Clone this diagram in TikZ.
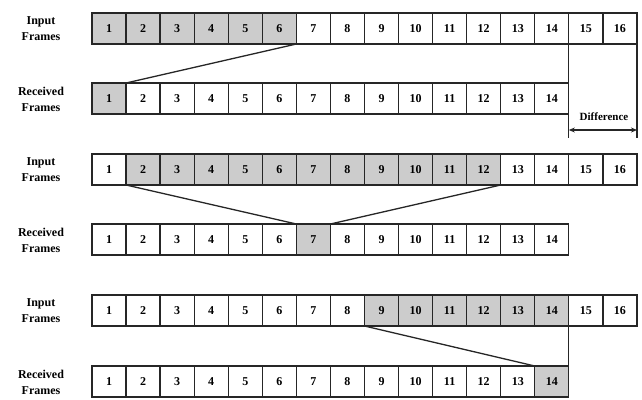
\documentclass[tikz,border=0pt]{standalone}
\usepackage{fontspec}
\setmainfont{Liberation Serif}
\usetikzlibrary{arrows.meta}
\begin{document}
\begin{tikzpicture}[x=1pt,y=-1pt,
  cell/.style={draw=black!85, line width=1.3pt, minimum width=34.06pt, minimum height=31pt,
    inner sep=0pt, outer sep=0pt, anchor=north west, font=\fontsize{12}{12}\selectfont\bfseries},
  lbl/.style={align=center, font=\fontsize{12}{16}\selectfont\bfseries},
  conn/.style={draw=black!85, line width=1.3pt},
  dimarrow/.style={conn, {Stealth[length=6pt,width=5pt]}-{Stealth[length=6pt,width=5pt]}}]
\useasboundingbox (0,0) rectangle (642,399);
\foreach \r/\top/\n/\a/\b in {1/13/16/1/6, 2/83/14/1/1, 3/154/16/2/12, 4/224/14/7/7, 5/295/16/9/14, 6/366/14/14/14}{
  \foreach \i in {1,...,\n}{
    \def\fillc{white}
    \ifnum\i<\a\relax\else\ifnum\i>\b\relax\else\def\fillc{black!20}\fi\fi
    \node[cell, fill=\fillc] (r\r-\i) at ({92+(\i-1)*34.06}, \top) {\i};
  }
}
\node[lbl] (L1) at (41, 28.5) {Input\\Frames};
\node[lbl] (L2) at (41, 99) {Received\\Frames};
\node[lbl] (L3) at (41, 170) {Input\\Frames};
\node[lbl] (L4) at (41, 240) {Received\\Frames};
\node[lbl] (L5) at (41, 311) {Input\\Frames};
\node[lbl] (L6) at (41, 382) {Received\\Frames};
\draw[conn] (r1-6.south east) -- (r2-1.north east);
\draw[conn] (r3-2.south west) -- (r4-7.north west);
\draw[conn] (r3-12.south east) -- (r4-7.north east);
\draw[conn] (r5-9.south west) -- (r6-14.north west);
\draw[conn] (r5-14.south east) -- (r6-14.north east);
\coordinate (d1) at (r1-14.south east |- 0,138);
\coordinate (d2) at (r1-16.south east |- 0,138);
\coordinate (a1) at (r1-14.south east |- 0,130);
\coordinate (a2) at (r1-16.south east |- 0,130);
\draw[conn] (r1-14.south east) -- (d1);
\draw[conn] (r1-16.south east) -- (d2);
\draw[dimarrow] (a1) -- (a2);
\node[font=\fontsize{11}{11}\selectfont\bfseries] (diff) at (604, 117) {Difference};
\end{tikzpicture}
\end{document}
